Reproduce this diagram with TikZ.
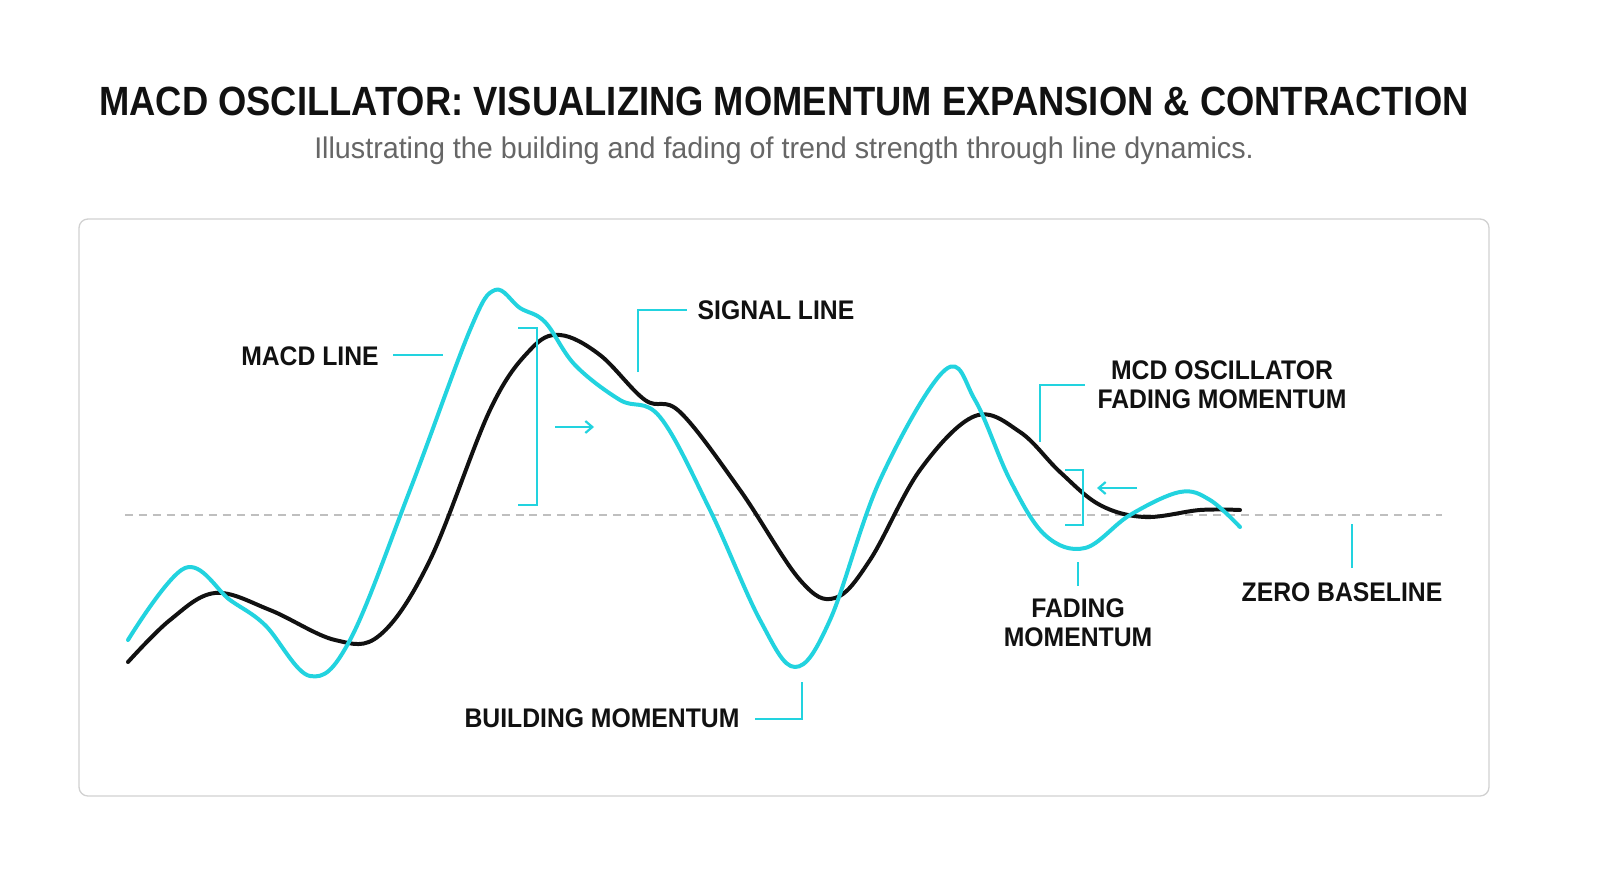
\documentclass[tikz,border=0pt]{standalone}
\usepackage{fontspec}
\setmainfont{Liberation Sans}
\usetikzlibrary{arrows.meta}
\definecolor{cy}{HTML}{22D3DF}
\definecolor{ink}{HTML}{111111}
\begin{document}
\begin{tikzpicture}[x=1bp,y=-1bp,
 lab/.style={font=\fontsize{27}{29}\selectfont\bfseries, text=ink, align=center, inner sep=0, xscale=0.92},
 ann/.style={cy, line width=2.2pt},
 curve/.style={line width=4pt, line cap=round, line join=round}]
\useasboundingbox[fill=white] (0,0) rectangle (1600,893);
\node[font=\fontsize{41}{44}\selectfont\bfseries, text=ink, xscale=0.89, inner sep=0] (title) at (784,101) {MACD OSCILLATOR: VISUALIZING MOMENTUM EXPANSION \& CONTRACTION};
\node[font=\fontsize{30}{34}\selectfont, text=black!60, xscale=0.96, inner sep=0] (sub) at (784,151) {Illustrating the building and fading of trend strength through line dynamics.};
\draw[black!18, line width=1.3pt, rounded corners=9pt] (79,219) rectangle (1489,796);
\draw[black!25, line width=1.2pt, dash pattern=on 8pt off 6pt] (125,515) -- (1442,515);
\draw[curve, ink] plot[smooth, tension=0.6] coordinates {(128,662) (170,620) (215,593) (270,610) (335,640) (380,635) (430,560) (490,410) (530,350) (560,335) (600,355) (645,400) (680,412) (740,490) (800,580) (835,598) (870,560) (920,470) (975,416) (1020,432) (1060,472) (1100,505) (1145,517) (1200,510) (1240,510)};
\draw[curve, cy] plot[smooth, tension=0.6] coordinates {(128,640) (185,568) (230,600) (265,625) (310,676) (350,640) (410,490) (470,330) (495,290) (520,308) (545,322) (575,365) (620,400) (660,417) (710,510) (760,620) (795,667) (830,620) (880,480) (945,370) (975,400) (1010,480) (1045,535) (1085,548) (1130,515) (1180,492) (1210,500) (1240,527)};
% labels
\node[lab] (macd) at (310,356) {MACD LINE};
\draw[ann] (393,355) -- (443,355);
\node[lab] (sig) at (776,310) {SIGNAL LINE};
\draw[ann] (638,372) -- (638,310) -- (687,310);
\draw[ann] (518,328) -- (537,328) -- (537,505) -- (518,505);
\coordinate (a1) at (555,427); \coordinate (a2) at (594,427);
\draw[ann, -{Straight Barb[length=7pt,width=12pt]}] (a1) -- (a2);
\node[lab] (mcd) at (1222,385) {MCD OSCILLATOR\\FADING MOMENTUM};
\draw[ann] (1040,442) -- (1040,385) -- (1085,385);
\draw[ann] (1065,470) -- (1083,470) -- (1083,525) -- (1065,525);
\coordinate (b1) at (1137,488); \coordinate (b2) at (1097,488);
\draw[ann, -{Straight Barb[length=7pt,width=12pt]}] (b1) -- (b2);
\node[lab] (fad) at (1078,623) {FADING\\MOMENTUM};
\draw[ann] (1078,562) -- (1078,586);
\node[lab] (zero) at (1342,592) {ZERO BASELINE};
\draw[ann] (1352,524) -- (1352,568);
\node[lab] (build) at (602,718) {BUILDING MOMENTUM};
\draw[ann] (755,719) -- (802,719) -- (802,682);
\end{tikzpicture}
\end{document}
